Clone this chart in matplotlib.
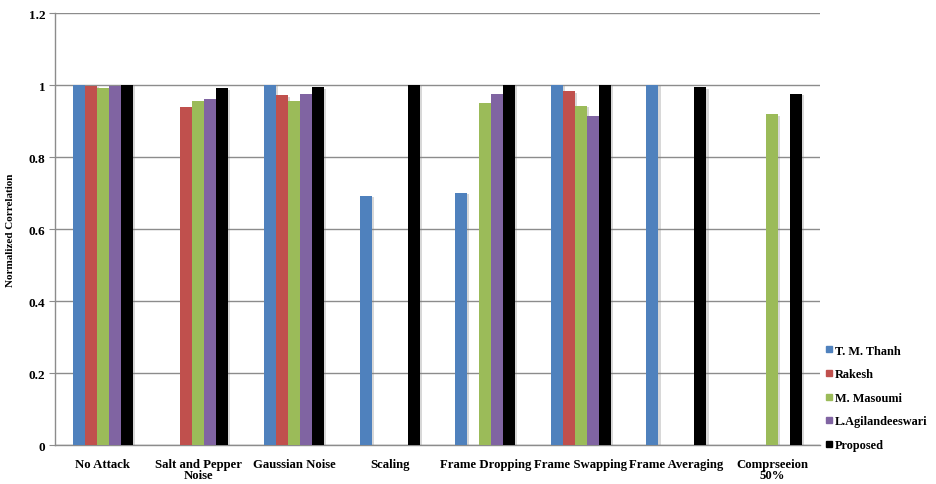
import numpy as np
import matplotlib
matplotlib.use("Agg")
import matplotlib.pyplot as plt
from matplotlib import patheffects as pe
from matplotlib.lines import Line2D

categories = ["No Attack", "Salt and Pepper\nNoise", "Gaussian Noise", "Scaling",
              "Frame Dropping", "Frame Swapping", "Frame Averaging", "Comprseeion\n50%"]
nan = np.nan
thanh = [1.0, nan, 1.0, 0.692, 0.70, 1.0, 1.0, nan]
rakesh = [0.998, 0.94, 0.972, nan, nan, 0.983, nan, nan]
masoumi = [0.993, 0.956, 0.956, nan, 0.95, 0.942, nan, 0.919]
agilan = [0.998, 0.961, 0.975, nan, 0.975, 0.914, nan, nan]
proposed = [1.0, 0.991, 0.994, 1.0, 1.0, 1.0, 0.994, 0.975]

series_names = ["T. M. Thanh", "Rakesh", "M. Masoumi", "L.Agilandeeswari", "Proposed"]
series_vals = [thanh, rakesh, masoumi, agilan, proposed]
colors = ["#4F81BD", "#C0504D", "#9BBB59", "#8064A2", "#000000"]

plt.rcParams['font.family'] = ['Liberation Serif', 'DejaVu Serif']
plt.rcParams['font.weight'] = 'bold'

fig = plt.figure(figsize=(9.37, 4.85), dpi=100)
ax = fig.add_axes([0.0587, 0.0804, 0.8163, 0.8906])

x = np.arange(len(categories))
w = 0.1255
shadow = [pe.SimplePatchShadow(offset=(1.5, -1), shadow_rgbFace="#808080", alpha=0.3), pe.Normal()]
for i, (name, vals, c) in enumerate(zip(series_names, series_vals, colors)):
    v = np.array(vals, dtype=float)
    bars = ax.bar(x + (i - 2) * w, np.nan_to_num(v), width=w, color=c, zorder=3, label=name)
    for b, val in zip(bars, v):
        if np.isnan(val):
            b.set_visible(False)
        else:
            b.set_path_effects(shadow)

ax.set_xlim(-0.5, len(categories) - 0.5)
ax.set_ylim(0, 1.2)
ax.set_yticks([0, 0.2, 0.4, 0.6, 0.8, 1.0, 1.2])
ax.set_yticklabels(["0", "0.2", "0.4", "0.6", "0.8", "1", "1.2"])
ax.yaxis.grid(True, color="#8c8c8c", linewidth=1.0, zorder=0)
ax.set_axisbelow(True)
for s in ["top", "right"]:
    ax.spines[s].set_visible(False)
for s in ["left", "bottom"]:
    ax.spines[s].set_color("#8c8c8c")
    ax.spines[s].set_linewidth(1.0)
ax.tick_params(axis="y", length=4, color="#8c8c8c", labelsize=9.5, pad=3)
ax.tick_params(axis="x", length=0, labelsize=9.2, pad=9)
ax.set_xticks(x)
ax.set_xticklabels(categories, linespacing=0.95)
for t in ax.get_xticklabels() + ax.get_yticklabels():
    t.set_fontweight("bold")
ax.set_ylabel("Normalized Correlation", fontsize=8, fontweight="bold", labelpad=10)

handles = [Line2D([0], [0], marker="s", linestyle="none", markersize=4.5,
                  markerfacecolor=c, markeredgecolor=c) for c in colors]
leg = fig.legend(handles, series_names, loc="upper left", bbox_to_anchor=(0.866, 0.31),
                 frameon=False, handletextpad=0.0, labelspacing=0.95,
                 handlelength=1.0, prop={"size": 8.8, "weight": "bold"})

fig.savefig("out.png", dpi=100)
